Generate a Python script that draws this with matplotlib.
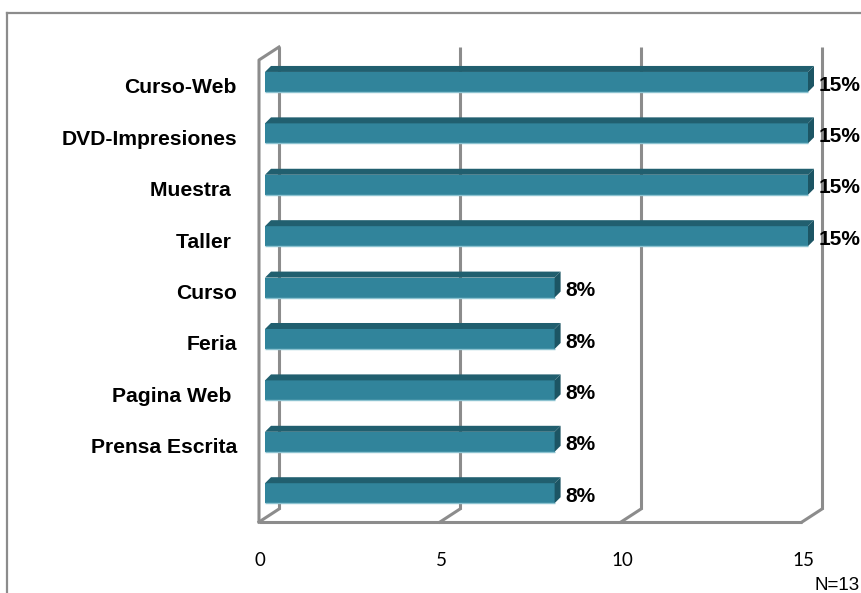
import numpy as np
import matplotlib
matplotlib.use("Agg")
import matplotlib.pyplot as plt
from matplotlib.patches import Polygon
from matplotlib.lines import Line2D
import matplotlib.transforms as mtransforms

# ============================================================
# DATA
# ============================================================

categories = [
    "Curso-Web", "DVD-Impresiones", "Muestra ", "Taller ", "Curso",
    "Feria", "Pagina Web ", "Prensa Escrita", "",
]
values = [15, 15, 15, 15, 8, 8, 8, 8, 8]
value_labels = ["15%", "15%", "15%", "15%", "8%", "8%", "8%", "8%", "8%"]
x_ticks = [0, 5, 10, 15]
note = "N=13"

# ============================================================
# STYLE
# ============================================================

W, H = 862, 593
grid_col = "#8c8c8c"
front_col = "#31849b"
top_col = "#215f6f"
side_col = "#1c5564"
edge_light = "#8cc2d0"

fig = plt.figure(figsize=(W / 100, H / 100), dpi=100)

# axes box = front floor edge (x) / back wall top to floor front (y)
ax_l, ax_r, ax_t, ax_b = 259, 802, 47, 522
ax = fig.add_axes([ax_l / W, 1 - ax_b / H, (ax_r - ax_l) / W, (ax_b - ax_t) / H])

y_top, y_bot = -0.68, 8.56
ax.set_xlim(0, 15)
ax.set_ylim(y_bot, y_top)
ax.axis("off")

kx = (ax_r - ax_l) / 15.0               # px per x unit
ky = (ax_b - ax_t) / (y_bot - y_top)    # px per row unit

# depth of the 3D box (px)
Dx, Dy = 20 / kx, -13 / ky

lw = 2.2

# ============================================================
# WALLS / FLOOR
# ============================================================

for t in x_ticks:
    # back wall gridline
    ax.plot([t + Dx, t + Dx], [y_bot + Dy, y_top], color=grid_col,
            lw=lw, zorder=1, clip_on=False, solid_capstyle="butt")
    # floor diagonal
    ax.plot([t, t + Dx], [y_bot, y_bot + Dy], color=grid_col,
            lw=lw, zorder=1, clip_on=False)

# floor front edge
ax.plot([0, 15], [y_bot, y_bot], color=grid_col, lw=lw, zorder=1,
        clip_on=False, solid_capstyle="butt")

# left wall front edge + top diagonal
ax.plot([0, 0, Dx], [y_bot, y_top - Dy, y_top], color=grid_col, lw=lw,
        zorder=1, clip_on=False)

# ============================================================
# BARS
# ============================================================

rows = np.arange(len(categories))
bx = 6 / kx          # bar front face offset from the front plane
ex, ey = 6 / kx, -6 / ky
h = 20 / ky

ax.barh(rows, values, left=bx, height=h, color=front_col,
        edgecolor="none", zorder=3, clip_on=False)

for r, v in zip(rows, values):
    top = r - h / 2
    bot = r + h / 2
    x1 = v + bx
    ax.add_patch(Polygon(
        [(bx, top), (x1, top), (x1 + ex, top + ey), (bx + ex, top + ey)],
        closed=True, facecolor=top_col, edgecolor="none", zorder=3,
        clip_on=False))
    ax.add_patch(Polygon(
        [(x1, top), (x1, bot), (x1 + ex, bot + ey), (x1 + ex, top + ey)],
        closed=True, facecolor=side_col, edgecolor="none", zorder=3,
        clip_on=False))
    ax.plot([bx, x1], [bot, bot], color=edge_light, lw=1.0, zorder=4,
            clip_on=False, solid_capstyle="butt")

# ============================================================
# TEXT
# ============================================================

lab_tr = mtransforms.offset_copy(ax.transData, fig=fig, x=-22, y=-6,
                                 units="dots")
for r, c in zip(rows, categories):
    ax.text(0, r, c, transform=lab_tr, ha="right", va="center",
            fontsize=15.2, fontweight="bold", family="Liberation Sans")

for r, v, s in zip(rows, values, value_labels):
    ax.text(v + 0.47, r + 0.06, s, ha="left", va="center", fontsize=15,
            fontweight="bold", family="Liberation Sans", clip_on=False)

tick_tr = mtransforms.offset_copy(ax.transData, fig=fig, x=1, y=-38,
                                  units="dots")
for t in x_ticks:
    ax.text(t, y_bot, str(t), transform=tick_tr, ha="center", va="center",
            fontsize=13.5, family="Lato")

fig.text(815 / W, 1 - 585 / H, note, ha="left", va="center",
         fontsize=13.5, family="Liberation Sans")

# ============================================================
# OUTER FRAME
# ============================================================

fig.add_artist(Line2D([7 / W, 7 / W], [0, 1 - 13 / H],
                      transform=fig.transFigure, color=grid_col, lw=1.6))
fig.add_artist(Line2D([7 / W, 1], [1 - 13 / H, 1 - 13 / H],
                      transform=fig.transFigure, color=grid_col, lw=1.6))

fig.savefig("out.png", dpi=100)
